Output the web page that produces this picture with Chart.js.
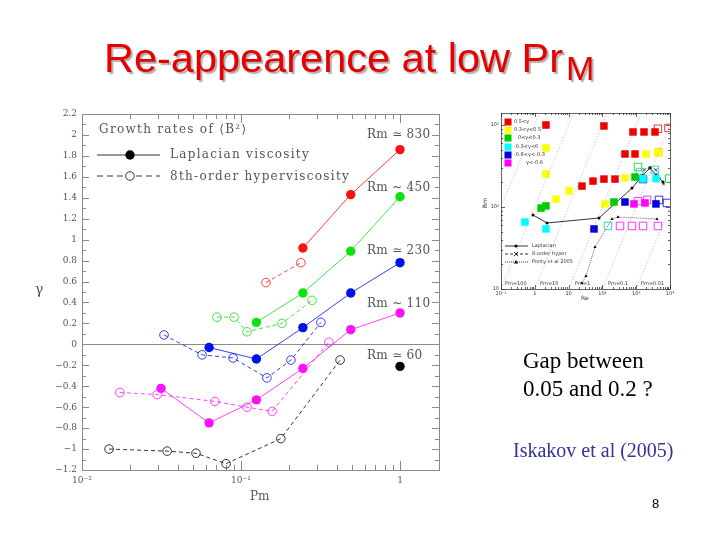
<!DOCTYPE html>
<html><head><meta charset="utf-8">
<script src="https://cdn.jsdelivr.net/npm/chart.js@4.4.1/dist/chart.umd.min.js"></script>
<style>
html,body{margin:0;padding:0;background:#fff;}
#wrap{position:relative;width:720px;height:540px;overflow:hidden;background:#fff;}
.t{position:absolute;white-space:nowrap;line-height:1;}
canvas{position:absolute;}
.pg{font-family:"DejaVu Serif",serif;font-size:12px;color:#555;}
.tiny{font-family:"DejaVu Sans",sans-serif;font-size:5px;color:#333;}
</style></head><body><div id="wrap">
<canvas id="main" width="720" height="540" style="left:0;top:0;width:720px;height:540px"></canvas>
<canvas id="inset" width="215" height="205" style="left:470px;top:100px;width:215px;height:205px"></canvas>

<div class="t" style="left:104px;top:37px;font-family:'Liberation Sans',Arial,sans-serif;font-size:41.5px;color:#e60000;text-shadow:2px 2px 1px #b0b0b0;">Re-appearence at low Pr<span style="font-size:34px;position:relative;top:8px;margin-left:3px;">M</span></div>

<div class="t pg" style="left:99px;top:123px;letter-spacing:1.3px;">Growth rates of ⟨B²⟩</div>
<div class="t pg" style="left:170px;top:148px;letter-spacing:1.3px;">Laplacian viscosity</div>
<div class="t pg" style="left:170px;top:170px;letter-spacing:1.3px;">8th-order hyperviscosity</div>
<div class="t pg" style="left:367px;top:128px;letter-spacing:0.3px;">Rm ≃ 830</div>
<div class="t pg" style="left:367px;top:181px;letter-spacing:0.3px;">Rm ~ 450</div>
<div class="t pg" style="left:367px;top:244px;letter-spacing:0.3px;">Rm ≃ 230</div>
<div class="t pg" style="left:367px;top:297px;letter-spacing:0.3px;">Rm ~ 110</div>
<div class="t pg" style="left:367px;top:349px;letter-spacing:0.3px;">Rm ≃ 60</div>
<div class="t pg" style="left:250px;top:490px;">Pm</div>
<div class="t pg" style="left:35px;top:282px;font-size:14px;">γ</div>

<div class="t" style="left:523px;top:349px;font-family:'Liberation Serif','Times New Roman',serif;font-size:23px;color:#000;">Gap between</div>
<div class="t" style="left:523px;top:377px;font-family:'Liberation Serif','Times New Roman',serif;font-size:23px;color:#000;">0.05 and 0.2 ?</div>
<div class="t" style="left:513px;top:440px;font-family:'Liberation Serif','Times New Roman',serif;font-size:20px;color:#333399;">Iskakov et al (2005)</div>
<div class="t" style="left:652px;top:497px;font-family:'Liberation Sans',Arial,sans-serif;font-size:13px;color:#000;">8</div>

<div class="t tiny" style="left:514px;top:119px;">0.5&lt;γ</div>
<div class="t tiny" style="left:514px;top:127px;">0.3&lt;γ&lt;0.5</div>
<div class="t tiny" style="left:518px;top:135px;">0&lt;γ&lt;0.3</div>
<div class="t tiny" style="left:514px;top:144px;">-0.3&lt;γ&lt;0</div>
<div class="t tiny" style="left:514px;top:152px;">-0.6&lt;γ&lt;-0.3</div>
<div class="t tiny" style="left:526px;top:160px;">γ&lt;-0.6</div>
<div class="t tiny" style="left:532px;top:243px;">Laplacian</div>
<div class="t tiny" style="left:532px;top:251px;">8-order hyper</div>
<div class="t tiny" style="left:532px;top:259px;">Ponty et al 2005</div>
<div class="t tiny" style="left:505px;top:281px;">Pm=100</div>
<div class="t tiny" style="left:540px;top:281px;">Pm=10</div>
<div class="t tiny" style="left:575px;top:281px;">Pm=1</div>
<div class="t tiny" style="left:608px;top:281px;">Pm=0.1</div>
<div class="t tiny" style="left:641px;top:281px;">Pm=0.01</div>
<div class="t tiny" style="left:581px;top:295px;font-size:6px;">Re</div>
<div class="t tiny" style="left:480px;top:200px;font-size:6px;transform:rotate(-90deg);">Rm</div>
</div>
<script>
// ---------- Main chart data: growth rate gamma vs Pm ----------
// Laplacian viscosity (filled circles)
const lapPm830 = [0.245, 0.49, 1.0];
const lapG830  = [0.92, 1.43, 1.86];
const lapPm450 = [0.125, 0.245, 0.49, 1.0];
const lapG450  = [0.21, 0.49, 0.89, 1.41];
const lapPm230 = [0.063, 0.125, 0.245, 0.49, 1.0];
const lapG230  = [-0.03, -0.14, 0.16, 0.49, 0.78];
const lapPm110 = [0.0314, 0.063, 0.125, 0.245, 0.49, 1.0];
const lapG110  = [-0.42, -0.75, -0.53, -0.23, 0.14, 0.30];
const lapPm60  = [1.0];
const lapG60   = [-0.21];
// 8th-order hyperviscosity (open circles)
const hypPm830 = [0.1435, 0.238];
const hypG830  = [0.59, 0.78];
const hypPm450 = [0.0706, 0.0904, 0.109, 0.181, 0.28];
const hypG450  = [0.26, 0.26, 0.12, 0.20, 0.42];
const hypPm230 = [0.0328, 0.0569, 0.0891, 0.1455, 0.206, 0.318];
const hypG230  = [0.09, -0.10, -0.13, -0.32, -0.15, 0.21];
const hypPm110 = [0.0173, 0.0297, 0.0686, 0.109, 0.157, 0.357];
const hypG110  = [-0.46, -0.48, -0.545, -0.60, -0.64, 0.02];
const hypPm60  = [0.0148, 0.0343, 0.0521, 0.0806, 0.178, 0.42];
const hypG60   = [-1.00, -1.02, -1.04, -1.14, -0.90, -0.15];
const yTickValues = [-1.2,-1,-0.8,-0.6,-0.4,-0.2,0,0.2,0.4,0.6,0.8,1,1.2,1.4,1.6,1.8,2,2.2];
const xTickLabels = {"-2":"10⁻²","-1":"10⁻¹","0":"1"};

// ---------- Inset data: Rm vs Re ----------
const sqRedRe = [2.14, 111, 804, 1700, 3600, 466, 921, 24.9, 52.7, 111, 236];
const sqRedRm = [1000, 973, 822, 822, 822, 443, 443, 180, 207, 219, 219];
const sqYelRe = [2.14, 2.14, 4.24, 10.3, 466, 1950, 4400, 119];
const sqYelRm = [524, 253, 125, 157, 226, 443, 456, 109];
const sqGrnRe = [1.53, 2.14, 220, 921];
const sqGrnRm = [97, 103, 115, 232];
const sqCyaRe = [0.51, 2.14, 1590, 3850];
const sqCyaRm = [65.6, 54, 222, 222];
const sqBluRe = [56.4, 466, 3850];
const sqBluRm = [54, 115, 109];
const sqMagRe = [861, 1820];
const sqMagRm = [109, 112];
const opMagRe = [332, 751, 1590, 4400, 1130, 2090];
const opMagRm = [58.7, 58.7, 58.7, 58.7, 118, 122];
const opCyaRe = [146, 1300, 3600];
const opCyaRm = [58.7, 267, 283];
const opBluRe = [1590, 4730, 8130];
const opBluRm = [219, 122, 112];
const opGrnRe = [1130, 9500];
const opGrnRm = [307, 222];
const opRedRe = [4400, 9000];
const opRedRm = [900, 920];
const opYelRe = [4600];
const opYelRm = [465];
const lapRe = [0.885, 2.3, 79.4, 751, 1590, 2560, 3850, 6200];
const lapRm = [79.9, 63.8, 73.4, 170, 246, 299, 246, 202];
const hyperRe = [1130, 1700, 2560, 3850, 6500];
const hyperRm = [225, 285, 305, 285, 190];
const pontyRe = [24.9, 32.7, 60.4, 192, 290, 4120];
const pontyRm = [11.8, 14.4, 32.5, 71.4, 75.5, 71.4];
const pmLines = [1000, 100, 10, 1, 0.1, 0.01];

const pts = (xs, ys) => xs.map((x, i) => ({x, y: ys[i]}));

function lapSet(xs, ys, c){
  return {data: pts(xs, ys), showLine:true, borderColor:c, borderWidth:0.8,
    pointRadius:4.7, pointBackgroundColor:c, pointBorderColor:c, pointBorderWidth:0};
}
function hypSet(xs, ys, c){
  return {data: pts(xs, ys), showLine:true, borderColor:c, borderWidth:0.8, borderDash:[4,3],
    pointRadius:4.3, pointBackgroundColor:'rgba(0,0,0,0)', pointBorderColor:c, pointBorderWidth:0.8};
}
const RED='#ff1010', GRN='#10e010', BLU='#0010e8', MAG='#ff10ff', BLK='#000000';

function drawTicksPlugin(id, cfg){
  return {id, beforeDatasetsDraw(chart){
    const {ctx, chartArea:a, scales:{x, y}} = chart;
    ctx.save();
    ctx.strokeStyle = cfg.color; ctx.lineWidth = cfg.lw;
    ctx.strokeRect(a.left+0.5, a.top+0.5, a.right-a.left, a.bottom-a.top);
    const ln = (x1,y1,x2,y2)=>{ctx.beginPath();ctx.moveTo(x1,y1);ctx.lineTo(x2,y2);ctx.stroke();};
    if (cfg.zero){ const p = Math.round(y.getPixelForValue(0))+0.5; ln(a.left,p,a.right,p); }
    cfg.yTicks(y).forEach(([v,len])=>{ const p=Math.round(y.getPixelForValue(v))+0.5; ln(a.left,p,a.left+len,p); ln(a.right,p,a.right-len,p); });
    cfg.xTicks(x).forEach(([v,len])=>{ const p=Math.round(x.getPixelForValue(v))+0.5; ln(p,a.bottom,p,a.bottom-len); ln(p,a.top,p,a.top+len); });
    if (cfg.extra) cfg.extra(ctx, ln);
    ctx.restore();
  }};
}
function logTicks(scale, big, small){
  const out=[];
  for (let d=Math.floor(Math.log10(scale.min)); d<=Math.ceil(Math.log10(scale.max)); d++)
    for (let m=1;m<=9;m++){ const v=m*Math.pow(10,d); if (v>=scale.min*0.999 && v<=scale.max*1.001) out.push([v, m===1?big:small]); }
  return out;
}

new Chart(document.getElementById('main'), {
  type:'scatter',
  data:{datasets:[
    lapSet(lapPm830, lapG830, RED), lapSet(lapPm450, lapG450, GRN), lapSet(lapPm230, lapG230, BLU),
    lapSet(lapPm110, lapG110, MAG), lapSet(lapPm60, lapG60, BLK),
    hypSet(hypPm830, hypG830, RED), hypSet(hypPm450, hypG450, GRN), hypSet(hypPm230, hypG230, BLU),
    hypSet(hypPm110, hypG110, MAG), hypSet(hypPm60, hypG60, BLK)
  ]},
  options:{
    responsive:false, animation:false, devicePixelRatio:1,
    layout:{padding:{left:32, right:281, top:114, bottom:30}},
    plugins:{legend:{display:false}, tooltip:{enabled:false}},
    scales:{
      x:{type:'logarithmic', min:0.01, max:1.759, afterFit:s=>{s.height=40;},
        grid:{display:false, drawTicks:false}, border:{display:false},
        ticks:{autoSkip:false, maxRotation:0, padding:5, color:'#555',
          font:{family:'DejaVu Serif', size:9},
          callback:(v)=>{ const l=Math.log10(v); const r=Math.round(l); return Math.abs(l-r)<1e-6 ? (xTickLabels[String(r)]||'') : ''; }}},
      y:{type:'linear', min:-1.2, max:2.2, afterFit:s=>{s.width=50;},
        afterBuildTicks:s=>{ s.ticks = yTickValues.map(v=>({value:v})); },
        grid:{display:false, drawTicks:false}, border:{display:false},
        ticks:{padding:5, color:'#555', font:{family:'DejaVu Serif', size:9},
          callback:(v)=> (Math.round(v*10)/10).toString().replace('-', '−')}}
    }
  },
  plugins:[drawTicksPlugin('mframe', {color:'#8a8a8a', lw:1, zero:true,
    yTicks:(y)=>{ const o=[]; for(let i=-12;i<=22;i++) o.push([i/10, i%2===0?7:4]); return o; },
    xTicks:(x)=>logTicks(x, 9, 5),
    extra:(ctx, ln)=>{
      ctx.strokeStyle='#000'; ctx.lineWidth=0.8;
      ln(97,155,160,155);
      ctx.fillStyle='#000'; ctx.beginPath(); ctx.arc(130,155,4.7,0,Math.PI*2); ctx.fill();
      ctx.setLineDash([6,4]); ln(97,176,124,176); ln(136,176,160,176); ctx.setLineDash([]);
      ctx.beginPath(); ctx.arc(130,176,4.3,0,Math.PI*2); ctx.stroke();
    }})]
});

// ---------- Inset ----------
function sqSet(xs, ys, c, open){
  return {data: pts(xs, ys), showLine:false, pointStyle:'rect', pointRadius:5.3,
    pointBackgroundColor: open ? 'rgba(0,0,0,0)' : c, pointBorderColor:c, pointBorderWidth: open?0.8:0};
}
const pmSets = pmLines.map(pm => ({data:[{x:0.01, y:pm*0.01},{x:1e5, y:pm*1e5}], showLine:true,
  borderColor:'#888', borderWidth:0.6, borderDash:[1,2], pointRadius:0}));
new Chart(document.getElementById('inset'), {
  type:'scatter',
  data:{datasets:[
    ...pmSets,
    sqSet(sqRedRe, sqRedRm, '#ee0000'), sqSet(sqYelRe, sqYelRm, '#ffff00'), sqSet(sqGrnRe, sqGrnRm, '#00cc00'),
    sqSet(sqCyaRe, sqCyaRm, '#00ffff'), sqSet(sqBluRe, sqBluRm, '#0000dd'), sqSet(sqMagRe, sqMagRm, '#ff00ff'),
    sqSet(opMagRe, opMagRm, '#ff00ff', true), sqSet(opCyaRe, opCyaRm, '#00cccc', true), sqSet(opBluRe, opBluRm, '#0000dd', true),
    sqSet(opGrnRe, opGrnRm, '#00cc00', true), sqSet(opRedRe, opRedRm, '#ee0000', true), sqSet(opYelRe, opYelRm, '#dddd00', true),
    {data:pts(lapRe, lapRm), showLine:true, borderColor:'#000', borderWidth:0.8, pointRadius:1.5, pointBackgroundColor:'#000', pointBorderWidth:0},
    {data:pts(hyperRe, hyperRm), showLine:true, borderColor:'#333', borderWidth:0.6, borderDash:[2,1.5], pointStyle:'crossRot', pointRadius:2, pointBorderColor:'#000', pointBorderWidth:0.6},
    {data:pts(pontyRe, pontyRm), showLine:true, borderColor:'#000', borderWidth:0.6, borderDash:[1,1], pointStyle:'triangle', pointRadius:1.8, pointBackgroundColor:'#000', pointBorderWidth:0}
  ]},
  options:{
    responsive:false, animation:false, devicePixelRatio:1,
    layout:{padding:{left:13, right:15, top:13, bottom:7}},
    plugins:{legend:{display:false}, tooltip:{enabled:false}},
    scales:{
      x:{type:'logarithmic', min:0.1, max:1e4, afterFit:s=>{s.height=9;},
        grid:{display:false, drawTicks:false}, border:{display:false},
        ticks:{autoSkip:false, maxRotation:0, padding:2, color:'#333', font:{family:'DejaVu Sans', size:5},
          callback:(v)=>{ const l=Math.log10(v), r=Math.round(l); if (Math.abs(l-r)>1e-6) return '';
            return ({'-1':'10⁻¹','0':'1','1':'10','2':'10²','3':'10³','4':'10⁴'})[String(r)]; }}},
      y:{type:'logarithmic', min:10, max:1400, afterFit:s=>{s.width=18;},
        grid:{display:false, drawTicks:false}, border:{display:false},
        ticks:{autoSkip:false, padding:2, color:'#333', font:{family:'DejaVu Sans', size:5},
          callback:(v)=>{ const l=Math.log10(v), r=Math.round(l); if (Math.abs(l-r)>1e-6) return '';
            return ({'1':'10','2':'10²','3':'10³'})[String(r)]; }}}
    }
  },
  plugins:[drawTicksPlugin('iframe', {color:'#222', lw:0.7, zero:false,
    yTicks:(y)=>logTicks(y, 4, 2), xTicks:(x)=>logTicks(x, 4, 2),
    extra:(ctx, ln)=>{
      const cols=['#ee0000','#ffff00','#00cc00','#00ffff','#0000dd','#ff00ff'];
      const ys=[22,30,38,47,55,63];
      cols.forEach((c,i)=>{ ctx.fillStyle=c; ctx.fillRect(34.5, ys[i]-3.5, 7, 7); });
      ctx.strokeStyle='#000'; ctx.lineWidth=0.8; ln(35,146,58,146);
      ctx.fillStyle='#000'; ctx.beginPath(); ctx.arc(46,146,1.5,0,Math.PI*2); ctx.fill();
      ctx.setLineDash([3,2]); ln(35,154,58,154); ctx.setLineDash([]);
      ln(44,152,48,156); ln(44,156,48,152);
      ctx.setLineDash([1,1]); ln(35,162,58,162); ctx.setLineDash([]);
      ctx.beginPath(); ctx.moveTo(46,160); ctx.lineTo(48,163.5); ctx.lineTo(44,163.5); ctx.closePath(); ctx.fill();
    }})]
});
</script>
</body></html>
